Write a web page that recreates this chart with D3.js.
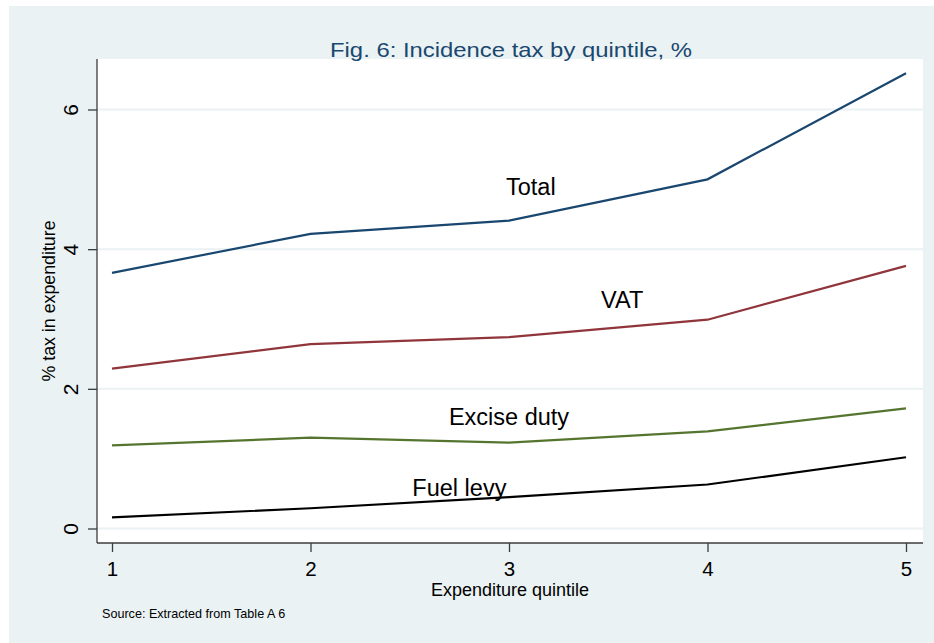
<!DOCTYPE html>
<html>
<head>
<meta charset="utf-8">
<script src="https://cdn.jsdelivr.net/npm/d3@7"></script>
<style>
	body { margin: 0; background: #ffffff; }
	text { font-family: "Liberation Sans", Arial, sans-serif; }
</style>
</head>
<body>
<svg id="chart" width="934" height="643"></svg>
<script>
const svgEl = document.getElementById('chart')
const width = +svgEl.getAttribute('width')
const height = +svgEl.getAttribute('height')
const svg = d3.select('#chart')

const bgColor = '#eaf2f3'
const axisColor = '#3c3c3c'

// data
const quintiles = [1, 2, 3, 4, 5]
const total = [3.66, 4.22, 4.41, 5.0, 6.52]
const vat = [2.29, 2.64, 2.74, 2.99, 3.76]
const excise = [1.19, 1.30, 1.23, 1.39, 1.72]
const fuel = [0.16, 0.29, 0.45, 0.63, 1.02]
const yTicks = [0, 2, 4, 6]

const seriesNames = ['Total', 'VAT', 'Excise duty', 'Fuel levy']
const seriesValues = [total, vat, excise, fuel]
const seriesColors = ['#1a476f', '#90353b', '#55752f', '#000000']
// text labels placed in data coords (quintile, %)
const labelX = [3.11, 3.57, 3.0, 2.75]
const labelY = [4.9, 3.28, 1.6, 0.58]

// plot region
const plotLeft = 97
const plotRight = 923
const plotTop = 59
const plotBottom = 543

const xScale = d3.scaleLinear()
	.domain([1, 5])
	.range([112, 906])

const yScale = d3.scaleLinear()
	.domain([0, 6])
	.range([528.5, 109.5])

// outer background
svg.append('rect')
	.attr('x', 9)
	.attr('y', 6)
	.attr('width', width - 9)
	.attr('height', height - 6)
	.attr('fill', bgColor)

svg.append('rect')
	.attr('x', plotLeft)
	.attr('y', plotTop)
	.attr('width', plotRight - plotLeft)
	.attr('height', plotBottom - plotTop)
	.attr('fill', '#ffffff')

// grid
svg.selectAll('line.grid')
	.data(yTicks)
	.enter()
	.append('line')
		.attr('class', 'grid')
		.attr('x1', plotLeft)
		.attr('x2', plotRight)
		.attr('y1', d => yScale(d))
		.attr('y2', d => yScale(d))
		.attr('stroke', bgColor)
		.attr('stroke-width', 2)

// axes
const yAxis = d3.axisLeft(yScale)
	.tickValues(yTicks)
	.tickFormat(d3.format('d'))
	.tickSize(9)
	.tickPadding(8)

const xAxis = d3.axisBottom(xScale)
	.tickValues(quintiles)
	.tickFormat(d3.format('d'))
	.tickSize(9)
	.tickPadding(9)

const gy = svg.append('g')
	.attr('transform', `translate(${plotLeft}, 0)`)
	.call(yAxis)

const gx = svg.append('g')
	.attr('transform', `translate(0, ${plotBottom})`)
	.call(xAxis)

gy.select('path.domain').remove()
gx.select('path.domain').remove()

svg.append('line')
	.attr('x1', plotLeft).attr('x2', plotLeft)
	.attr('y1', plotTop).attr('y2', plotBottom)
	.attr('stroke', axisColor).attr('stroke-width', 1.3)

svg.append('line')
	.attr('x1', plotLeft).attr('x2', plotRight)
	.attr('y1', plotBottom).attr('y2', plotBottom)
	.attr('stroke', axisColor).attr('stroke-width', 1.3)

svg.selectAll('.tick line')
	.attr('stroke', axisColor)
	.attr('stroke-width', 1.3)

gx.selectAll('.tick text')
	.attr('font-size', '20.5px')
	.attr('fill', '#000')
	.attr('font-family', '"Liberation Sans", Arial, sans-serif')

// rotated y tick labels
gy.selectAll('.tick text')
	.attr('font-size', '21px')
	.attr('fill', '#000')
	.attr('font-family', '"Liberation Sans", Arial, sans-serif')
	.attr('x', null)
	.attr('dy', null)
	.attr('text-anchor', 'middle')
	.attr('transform', 'translate(-19, 0) rotate(-90)')

// lines
const line = d3.line()
	.x((d, i) => xScale(quintiles[i]))
	.y(d => yScale(d))

svg.selectAll('path.series')
	.data(seriesValues)
	.enter()
	.append('path')
		.attr('class', 'series')
		.attr('d', d => line(d))
		.attr('fill', 'none')
		.attr('stroke', (d, i) => seriesColors[i])
		.attr('stroke-width', 2.2)

svg.selectAll('text.label')
	.data(seriesNames)
	.enter()
	.append('text')
		.attr('class', 'label')
		.attr('x', (d, i) => xScale(labelX[i]))
		.attr('y', (d, i) => yScale(labelY[i]))
		.attr('dy', '0.35em')
		.attr('text-anchor', 'middle')
		.attr('font-size', '23.5px')
		.attr('fill', '#000')
		.text(d => d)

// titles
svg.append('text')
	.attr('x', (plotLeft + plotRight) / 2 + 1)
	.attr('y', 57)
	.attr('text-anchor', 'middle')
	.attr('font-size', '21px')
	.attr('textLength', 362)
	.attr('lengthAdjust', 'spacingAndGlyphs')
	.attr('fill', '#1a476f')
	.text('Fig. 6: Incidence tax by quintile, %')

svg.append('text')
	.attr('x', (plotLeft + plotRight) / 2)
	.attr('y', 596)
	.attr('text-anchor', 'middle')
	.attr('font-size', '18px')
	.attr('fill', '#000')
	.text('Expenditure quintile')

svg.append('text')
	.attr('transform', `translate(55, ${(plotTop + plotBottom) / 2}) rotate(-90)`)
	.attr('text-anchor', 'middle')
	.attr('font-size', '17.8px')
	.attr('fill', '#000')
	.text('% tax in expenditure')

svg.append('text')
	.attr('x', 102)
	.attr('y', 618)
	.attr('font-size', '12.6px')
	.attr('fill', '#000')
	.text('Source: Extracted from Table A 6')
</script>
</body>
</html>
